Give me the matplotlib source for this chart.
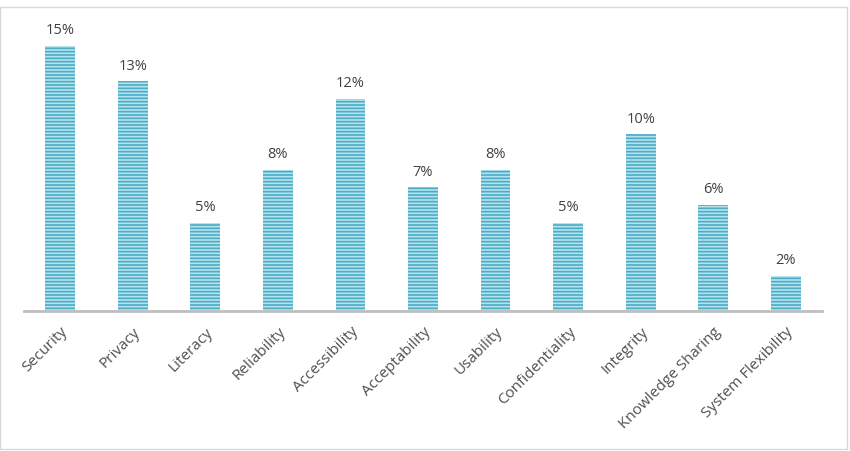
import matplotlib.pyplot as plt
from matplotlib.patches import Rectangle

# data
categories = ["Security", "Privacy", "Literacy", "Reliability", "Accessibility",
              "Acceptability", "Usability", "Confidentiality", "Integrity",
              "Knowledge Sharing", "System Flexibility"]
values = [15, 13, 5, 8, 12, 7, 8, 5, 10, 6, 2]

plt.rcParams["font.family"] = ["Open Sans", "DejaVu Sans"]
plt.rcParams["hatch.linewidth"] = 1.2

fig = plt.figure(figsize=(8.5, 4.52), dpi=100)
ax = fig.add_axes([24 / 850, 140 / 452, 798 / 850, 302 / 452])

x = range(len(categories))
bars = ax.bar(x, values, width=0.41, color="#b7e3ee", edgecolor="#4aacc5",
              linewidth=0, hatch="-----")

for xi, v in zip(x, values):
    ax.text(xi, v + 0.5, f"{v}%", ha="center", va="bottom",
            fontsize=10.5, color="#404040")

ax.set_xlim(-0.5, len(categories) - 0.5)
ax.set_ylim(0, 17.1)
ax.set_yticks([])
ax.set_xticks(list(x))
ax.set_xticklabels(categories, rotation=45, ha="right", rotation_mode="anchor",
                   fontsize=11, color="#505050")
ax.tick_params(axis="x", length=0, pad=9)
for s in ["top", "right", "left"]:
    ax.spines[s].set_visible(False)
ax.spines["bottom"].set_color("#bfbfbf")
ax.spines["bottom"].set_linewidth(2)

# chart border
fig.patches.append(Rectangle((0.0, 0.004), 0.997, 0.978, transform=fig.transFigure,
                             fill=False, edgecolor="#d9d9d9", linewidth=1))

fig.savefig("out.png", dpi=100)
